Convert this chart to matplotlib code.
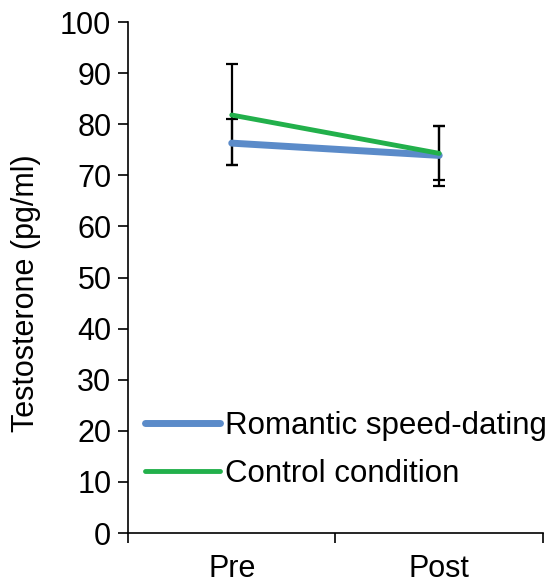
import matplotlib.pyplot as plt

plt.rcParams['font.family'] = ['Liberation Sans', 'DejaVu Sans']

# data
times = ["Pre", "Post"]
romantic = [76.3, 73.9]
romantic_lo = [72.0, 68.0]
romantic_hi = [81.0, 79.6]
control = [81.8, 74.3]
control_lo = [72.0, 69.0]
control_hi = [91.7, 79.6]

fig = plt.figure(figsize=(5.57, 5.86), dpi=100)
ax = fig.add_axes([0.2298, 0.0904, 0.7450, 0.872])

x = [0.5, 1.5]

# error bars first (underneath the lines)
ax.errorbar(x, romantic, yerr=[[m - l for m, l in zip(romantic, romantic_lo)],
                                [h - m for m, h in zip(romantic, romantic_hi)]],
            fmt='none', ecolor='black', elinewidth=1.6, capsize=4.5, capthick=1.6, zorder=2)
ax.errorbar(x, control, yerr=[[m - l for m, l in zip(control, control_lo)],
                               [h - m for m, h in zip(control, control_hi)]],
            fmt='none', ecolor='black', elinewidth=1.6, capsize=4.5, capthick=1.6, zorder=2)

ax.plot(x, romantic, color='#5B8BC9', lw=5, solid_capstyle='round', label='Romantic speed-dating', zorder=3)
ax.plot(x, control, color='#22B04B', lw=3.5, solid_capstyle='round', label='Control condition', zorder=4)

ax.set_xlim(0, 2)
ax.set_ylim(0, 100)
ax.set_yticks(range(0, 101, 10))
ax.set_xticks(x)
ax.set_xticklabels(times)
ax.set_xticks([0, 1, 2], minor=True)
ax.tick_params(axis='x', which='major', length=0, pad=15, labelsize=22)
ax.tick_params(axis='x', which='minor', length=7, width=1.2, direction='out')
ax.tick_params(axis='y', length=7, width=1.2, labelsize=22, pad=5)

for s in ['top', 'right']:
    ax.spines[s].set_visible(False)
for s in ['left', 'bottom']:
    ax.spines[s].set_linewidth(1.2)

ax.set_ylabel("Testosterone (pg/ml)", fontsize=22)
ax.yaxis.set_label_coords(-0.21, 0.47)

leg = ax.legend(loc='lower left', bbox_to_anchor=(0.012, 0.062), frameon=False, fontsize=22.5,
                handlelength=2.4, handletextpad=0.15, labelspacing=0.56, borderaxespad=0)
for h in leg.get_lines():
    h.set_solid_capstyle('round')

fig.savefig('out.png', dpi=100)
